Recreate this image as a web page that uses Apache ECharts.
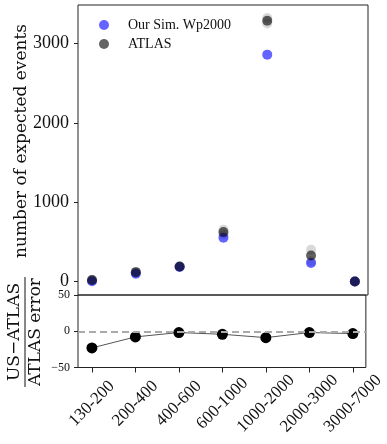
<!DOCTYPE html>
<html>
<head>
<meta charset="utf-8">
<title>expected events</title>
<script src="https://cdn.jsdelivr.net/npm/echarts/dist/echarts.min.js"></script>
<style>
    html, body { margin: 0; padding: 0; background: #fff; }
    #chart_js { width: 387px; height: 444px; }
</style>
</head>
<body>
<div id="chart_js"></div>
<script>
// 数据
var categories = ['130-200', '200-400', '400-600', '600-1000', '1000-2000', '2000-3000', '3000-7000'];
var simValues = [5, 101, 185, 555, 2862, 235, 3];
var atlasValues = [20, 120, 192, 625, 3290, 329, 3];
var atlasUpper = [20, 120, 192, 655, 3325, 401, 3];
var atlasLower = [20, 120, 192, 595, 3255, 257, 3];
var ratioValues = [-23, -7.8, -1.8, -4.2, -8.8, -1.8, -3.2];
var topTicks = [0, 1000, 2000, 3000];
var bottomTicks = [-50, 0, 50];
var catTicks = [0, 1, 2, 3, 4, 5, 6];

(function(window) {
    'use strict';
    var numFont = 'Liberation Serif';
    var textFont = 'DejaVu Serif';
    var ink = '#111';

    function points(values) {
        return values.map(function(v, i) {
            return [i, v];
        });
    }

    function errPoints() {
        var list = [];
        atlasUpper.forEach(function(v, i) {
            list.push([i, v]);
            list.push([i, atlasLower[i]]);
        });
        return list;
    }

    var chart = echarts.init(document.getElementById('chart_js'));

    var option = {
        animation: false,
        grid: [{
            left: 78, right: 19, top: 5, height: 290,
            show: true, borderColor: '#222', borderWidth: 1
        }, {
            left: 78, right: 19, top: 295, height: 72.5,
            show: true, borderColor: '#222', borderWidth: 1
        }],
        legend: {
            data: ['Our Sim. Wp2000', 'ATLAS'],
            orient: 'vertical',
            left: 94,
            top: 13,
            icon: 'circle',
            itemWidth: 10,
            itemHeight: 10,
            itemGap: 5,
            textStyle: {
                fontFamily: numFont,
                fontSize: 14,
                color: ink,
                lineHeight: 14,
                padding: [0, 0, 0, 14]
            }
        },
        xAxis: [{
            gridIndex: 0,
            type: 'value',
            min: -0.32,
            max: 6.3,
            axisLine: { show: false, onZero: false },
            axisTick: { show: false },
            axisLabel: { show: false },
            splitLine: { show: false }
        }, {
            gridIndex: 1,
            type: 'value',
            min: -0.32,
            max: 6.3,
            axisLine: { show: false, onZero: false },
            splitLine: { show: false },
            axisTick: {
                show: true,
                inside: false,
                customValues: catTicks,
                length: 5,
                lineStyle: { color: '#222' }
            },
            axisLabel: {
                customValues: catTicks,
                rotate: 45,
                align: 'center',
                verticalAlign: 'middle',
                margin: 36,
                fontFamily: numFont,
                fontSize: 17,
                color: ink,
                formatter: function(v) {
                    return categories[Math.round(v)];
                }
            }
        }],
        yAxis: [{
            gridIndex: 0,
            type: 'value',
            min: -168,
            max: 3488,
            axisLine: { show: false, onZero: false },
            splitLine: { show: false },
            axisTick: {
                show: true,
                inside: false,
                customValues: topTicks,
                length: 4,
                lineStyle: { color: '#222' }
            },
            axisLabel: {
                customValues: topTicks,
                margin: 9,
                fontFamily: numFont,
                fontSize: 18,
                color: ink,
                formatter: function(v) {
                    return String(v);
                }
            }
        }, {
            gridIndex: 1,
            type: 'value',
            min: -50,
            max: 50,
            axisLine: { show: false, onZero: false },
            splitLine: { show: false },
            axisTick: {
                show: true,
                inside: false,
                customValues: bottomTicks,
                length: 4,
                lineStyle: { color: '#222' }
            },
            axisLabel: {
                customValues: bottomTicks,
                margin: 8,
                fontFamily: numFont,
                fontSize: 12,
                color: ink,
                formatter: function(v) {
                    return String(v).replace('-', '\u2212');
                }
            }
        }],
        series: [{
            // ATLAS 误差
            name: 'ATLAS err',
            type: 'scatter',
            xAxisIndex: 0,
            yAxisIndex: 0,
            symbolSize: 10,
            itemStyle: { color: 'rgba(150,150,150,0.45)' },
            data: errPoints()
        }, {
            name: 'Our Sim. Wp2000',
            type: 'scatter',
            xAxisIndex: 0,
            yAxisIndex: 0,
            symbolSize: 10,
            itemStyle: { color: 'rgba(0,0,255,0.76)' },
            data: points(simValues)
        }, {
            name: 'ATLAS',
            type: 'scatter',
            xAxisIndex: 0,
            yAxisIndex: 0,
            symbolSize: 10,
            itemStyle: { color: 'rgba(0,0,0,0.76)' },
            data: points(atlasValues)
        }, {
            // 偏差
            name: 'ratio',
            type: 'line',
            xAxisIndex: 1,
            yAxisIndex: 1,
            symbol: 'circle',
            symbolSize: 11,
            lineStyle: { color: '#555', width: 1 },
            itemStyle: { color: '#000' },
            data: points(ratioValues),
            markLine: {
                silent: true,
                symbol: ['none', 'none'],
                label: { show: false },
                lineStyle: { type: [7, 4], color: '#aaa', width: 2.2 },
                data: [{ yAxis: 0 }]
            }
        }],
        graphic: [{
            type: 'text',
            x: 22,
            y: 141,
            rotation: Math.PI / 2,
            style: {
                text: 'number of expected events',
                fontFamily: textFont,
                fontSize: 17,
                fill: ink,
                align: 'center',
                verticalAlign: 'middle'
            }
        }, {
            type: 'group',
            x: 25,
            y: 332,
            rotation: Math.PI / 2,
            children: [{
                type: 'text',
                x: 0,
                y: -2,
                style: {
                    text: 'US\u2212ATLAS',
                    fontFamily: textFont,
                    fontSize: 17,
                    fill: ink,
                    align: 'center',
                    verticalAlign: 'bottom'
                }
            }, {
                type: 'line',
                shape: { x1: -55, y1: 0, x2: 55, y2: 0 },
                style: { stroke: ink, lineWidth: 1 }
            }, {
                type: 'text',
                x: 0,
                y: 2,
                style: {
                    text: 'ATLAS error',
                    fontFamily: textFont,
                    fontSize: 17,
                    fill: ink,
                    align: 'center',
                    verticalAlign: 'top'
                }
            }]
        }]
    };

    chart.setOption(option);
})(window);
</script>
</body>
</html>
